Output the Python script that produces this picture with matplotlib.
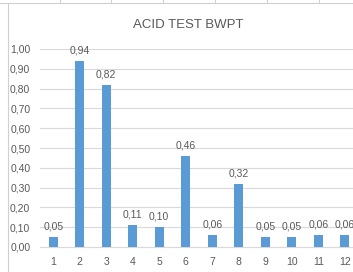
import numpy as np
import matplotlib
matplotlib.use("Agg")
import matplotlib.pyplot as plt
from matplotlib.lines import Line2D

plt.rcParams['font.family'] = ['Liberation Sans Narrow', 'Liberation Sans', 'DejaVu Sans']

categories = ['1', '2', '3', '4', '5', '6', '7', '8', '9', '10', '11', '12']
values = [0.05, 0.94, 0.82, 0.11, 0.10, 0.46, 0.06, 0.32, 0.05, 0.05, 0.06, 0.06]
labels = ['0,05', '0,94', '0,82', '0,11', '0,10', '0,46', '0,06', '0,32', '0,05', '0,05', '0,06', '0,06']
yticks = np.arange(0, 1.01, 0.1)
ytick_labels = ['0,00', '0,10', '0,20', '0,30', '0,40', '0,50', '0,60', '0,70', '0,80', '0,90', '1,00']

bar_color = '#5B9BD5'
text_color = '#595959'
grid_color = '#D9D9D9'

W, H = 353, 272
fig = plt.figure(figsize=(W / 100, H / 100), dpi=100)

# spreadsheet cell lines and chart border
fig.add_artist(Line2D([0, 1], [1 - 2.5 / H, 1 - 2.5 / H], color='#D0D0D0', lw=0.8))
for xc in [60, 111, 163, 215, 267, 319]:
    fig.add_artist(Line2D([xc / W, xc / W], [1, 1 - 2.5 / H], color='#D0D0D0', lw=0.8))
fig.add_artist(Line2D([7.5 / W, 7.5 / W], [0, 1 - 2.5 / H], color='#D0D0D0', lw=0.8))

left, right = 40, 358
bottom, top = 247, 49
ax = fig.add_axes([left / W, (H - bottom) / H, (right - left) / W, (bottom - top) / H])

x = np.arange(len(categories))
ax.bar(x, values, width=0.34, color=bar_color, zorder=3)
for xi, v, lab in zip(x, values, labels):
    ax.annotate(lab, (xi, v), xytext=(0, 4), textcoords='offset points',
                ha='center', va='bottom', fontsize=7.5, color=text_color)

ax.set_xlim(-0.5, len(categories) - 0.5)
ax.set_ylim(0, 1.0)
ax.set_yticks(yticks)
ax.set_yticklabels(ytick_labels)
ax.set_xticks(x)
ax.set_xticklabels(categories)
ax.tick_params(axis='both', length=0, labelsize=7.5, colors=text_color)
ax.tick_params(axis='y', pad=7)
ax.tick_params(axis='x', pad=7)
ax.yaxis.grid(True, color=grid_color, lw=0.8, zorder=0)
for s in ['top', 'right', 'left']:
    ax.spines[s].set_visible(False)
ax.spines['bottom'].set_color(grid_color)
ax.spines['bottom'].set_linewidth(0.8)

fig.text(188 / W, 1 - 25 / H, 'ACID TEST BWPT', ha='center', va='center',
         fontsize=9.5, color=text_color)

fig.savefig('out.png', dpi=100)
